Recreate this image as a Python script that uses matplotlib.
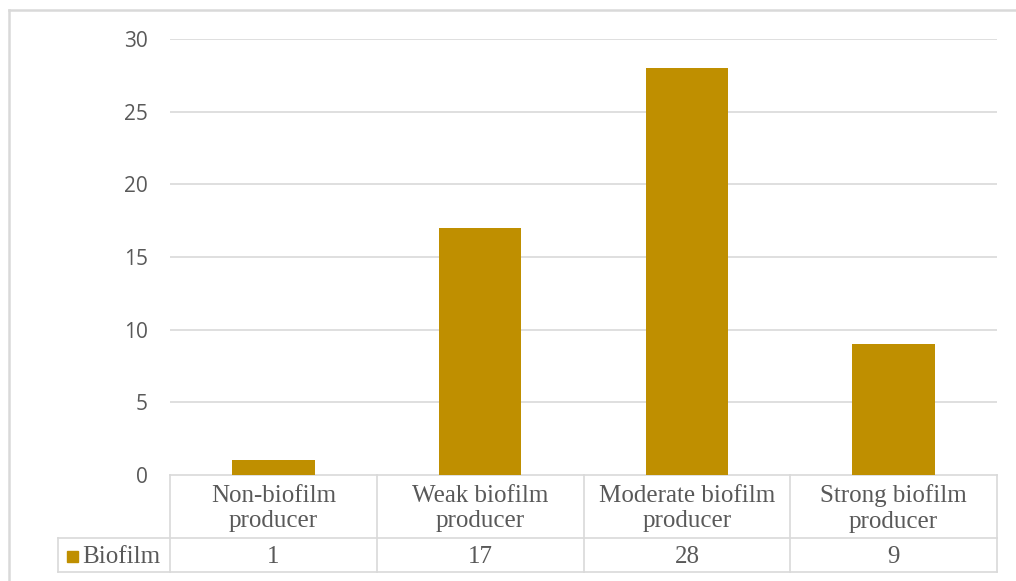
import numpy as np
import matplotlib.pyplot as plt
from matplotlib.lines import Line2D
from matplotlib.patches import Rectangle
import matplotlib.transforms as mtransforms

# данные
categories = ['Non-biofilm\nproducer', 'Weak biofilm\nproducer',
              'Moderate biofilm\nproducer', 'Strong biofilm\nproducer']
values = [1, 17, 28, 9]
series_name = 'Biofilm'
yticks = [0, 5, 10, 15, 20, 25, 30]

bar_color = '#BF8F00'
grid_color = '#D9D9D9'
text_color = '#595959'

W, H = 1016, 581
fig = plt.figure(figsize=(W / 100, H / 100), dpi=100)
fig.patch.set_facecolor('white')

# область построения (в пикселях)
x0, x1 = 170, 997
y_top, y_zero = 39, 475
ax = fig.add_axes([x0 / W, (H - y_zero) / H, (x1 - x0) / W, (y_zero - y_top) / H])

x = np.arange(len(categories))
ax.bar(x, values, width=0.4, color=bar_color, zorder=3)

ax.set_xlim(-0.5, len(categories) - 0.5)
ax.set_ylim(0, 30)
ax.set_yticks(yticks)
ax.set_yticklabels([str(t) for t in yticks], fontfamily='Open Sans',
                   fontsize=15, color=text_color)
ax.tick_params(axis='y', length=0, pad=16)
ax.set_xticks([])
for t in yticks[1:]:
    ax.axhline(t, color=grid_color, lw=1.2, zorder=1)
for s in ax.spines.values():
    s.set_visible(False)

# таблица данных под осью
ax_h = y_zero - y_top
row1 = -(538 - y_zero) / ax_h
row2 = -(572 - y_zero) / ax_h
leg_left = (58 - x0) / (x1 - x0)
trans = mtransforms.blended_transform_factory(ax.transData, ax.transAxes)
lkw = dict(color=grid_color, lw=1.2, clip_on=False)

ax.add_line(Line2D([-0.5, len(categories) - 0.5], [0, 0], transform=trans, **lkw))
for yy in (row1, row2):
    ax.add_line(Line2D([leg_left, 1], [yy, yy], transform=ax.transAxes, **lkw))
ax.add_line(Line2D([leg_left, leg_left], [row1, row2], transform=ax.transAxes, **lkw))
for b in np.arange(len(categories) + 1) - 0.5:
    ax.add_line(Line2D([b, b], [0, row2], transform=trans, **lkw))

tkw = dict(transform=trans, ha='center', va='center', fontfamily='Liberation Serif',
           fontsize=18, color=text_color, clip_on=False)
for i, (cat, v) in enumerate(zip(categories, values)):
    ax.text(i, row1 / 2 - 2 / ax_h, cat, linespacing=1.22, **tkw)
    ax.text(i, (row1 + row2) / 2 - 2 / ax_h, str(v), **tkw)

# легенда в ячейке таблицы
sq = 11 / (x1 - x0)
sq_h = 11 / ax_h
lx = (67 - x0) / (x1 - x0)
ly = (row1 + row2) / 2
ax.add_patch(Rectangle((lx, ly - sq_h / 2 - 1 / ax_h), sq, sq_h, transform=ax.transAxes,
                       color=bar_color, clip_on=False))
ax.text((82 - x0) / (x1 - x0), ly - 2 / ax_h, series_name, transform=ax.transAxes,
        ha='left', va='center', fontfamily='Liberation Serif', fontsize=18,
        color=text_color)

# рамка диаграммы
fig.add_artist(Line2D([9 / W, 1], [1 - 10 / H, 1 - 10 / H], transform=fig.transFigure,
                      color=grid_color, lw=1.8))
fig.add_artist(Line2D([9 / W, 9 / W], [0, 1 - 10 / H], transform=fig.transFigure,
                      color=grid_color, lw=1.8))

fig.savefig('out.png', dpi=100, facecolor='white')
